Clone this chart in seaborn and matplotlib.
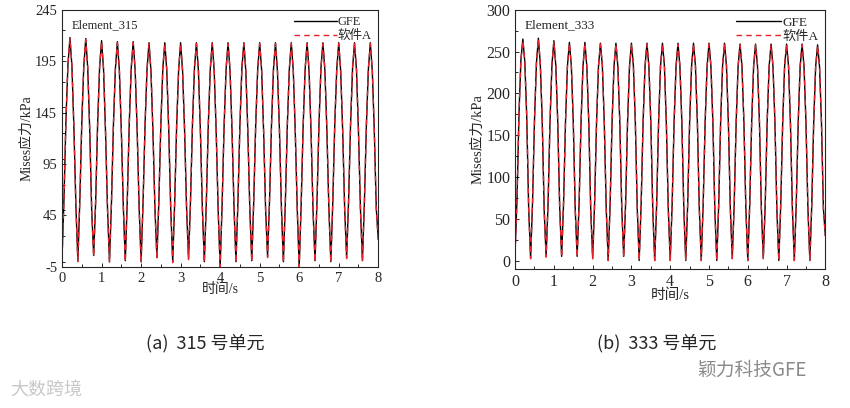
import matplotlib
matplotlib.use("Agg")
import matplotlib.pyplot as plt
from matplotlib.ticker import MultipleLocator
import numpy as np
import pandas as pd
import seaborn as sns

# temps (pas de 0.05 s)
temps = np.round(np.arange(0, 8.0001, 0.05), 2)

# Element_315
gfe_315 = [
    5, 62, 140, 192, 218, 190, 130, 55,
    1, 60, 136, 190, 217, 188, 128, 50,
    6, 58, 134, 189, 215, 187, 126, 52,
    0, 57, 133, 188, 214, 186, 127, 54,
    1, 59, 134, 188, 214, 186, 128, 53,
    0, 58, 133, 187, 213, 185, 126, 52,
    4, 60, 134, 188, 213, 186, 127, 51,
    0, 58, 133, 187, 213, 185, 128, 53,
    3, 59, 134, 188, 213, 186, 127, 52,
    0, 57, 133, 187, 213, 185, 126, 50,
    -5, 56, 132, 187, 213, 186, 128, 54,
    0, 58, 133, 188, 213, 185, 127, 52,
    1, 59, 134, 187, 213, 186, 126, 51,
    5, 60, 134, 188, 213, 185, 128, 53,
    0, 58, 133, 187, 213, 186, 127, 52,
    -5, 56, 132, 187, 213, 185, 126, 50,
    1, 58, 133, 188, 213, 186, 128, 53,
    0, 58, 134, 187, 213, 185, 127, 52,
    4, 60, 134, 188, 213, 186, 126, 51,
    1, 58, 133, 187, 213, 185, 127, 52,
    22]
softA_315 = [
    4, 63, 141, 193, 217, 191, 131, 54,
    0, 61, 137, 191, 216, 189, 129, 49,
    5, 59, 135, 190, 214, 188, 127, 51,
    -1, 58, 134, 189, 213, 187, 128, 53,
    0, 60, 135, 189, 213, 187, 129, 52,
    -1, 59, 134, 188, 212, 186, 127, 51,
    3, 61, 135, 189, 212, 187, 128, 50,
    -1, 59, 134, 188, 212, 186, 129, 52,
    2, 60, 135, 189, 212, 187, 128, 51,
    -1, 58, 134, 188, 212, 186, 127, 49,
    -5, 57, 133, 188, 212, 187, 129, 53,
    -1, 59, 134, 189, 212, 186, 128, 51,
    0, 60, 135, 188, 212, 187, 127, 50,
    4, 61, 135, 189, 212, 186, 129, 52,
    -1, 59, 134, 188, 212, 187, 128, 51,
    -5, 57, 133, 188, 212, 186, 127, 49,
    0, 59, 134, 189, 212, 187, 129, 52,
    -1, 59, 135, 188, 212, 186, 128, 51,
    3, 61, 135, 189, 212, 187, 127, 50,
    0, 59, 134, 188, 212, 186, 128, 51,
    21]

# Element_333
gfe_333 = [
    10, 75, 175, 240, 265, 238, 172, 62,
    3, 70, 168, 236, 266, 235, 166, 60,
    5, 68, 166, 234, 263, 233, 165, 63,
    5, 69, 166, 233, 261, 233, 166, 62,
    5, 68, 165, 232, 261, 232, 165, 61,
    3, 68, 165, 232, 260, 233, 164, 62,
    0, 67, 165, 232, 260, 232, 165, 63,
    5, 69, 166, 232, 260, 233, 166, 62,
    0, 67, 165, 232, 260, 232, 165, 61,
    0, 67, 165, 233, 260, 233, 164, 62,
    0, 68, 166, 232, 260, 232, 165, 63,
    0, 67, 165, 232, 260, 233, 166, 62,
    0, 68, 165, 232, 260, 232, 165, 61,
    0, 67, 166, 233, 260, 233, 164, 62,
    3, 68, 165, 232, 259, 232, 165, 63,
    0, 67, 165, 232, 259, 233, 166, 62,
    3, 68, 166, 232, 259, 232, 165, 61,
    0, 67, 165, 233, 259, 233, 164, 62,
    0, 68, 165, 232, 259, 232, 165, 63,
    0, 67, 166, 232, 258, 232, 165, 62,
    30]
softA_333 = [
    9, 76, 176, 241, 263, 239, 173, 61,
    2, 71, 169, 237, 265, 236, 167, 59,
    4, 69, 167, 235, 262, 234, 166, 62,
    4, 70, 167, 234, 260, 234, 167, 61,
    4, 69, 166, 233, 260, 233, 166, 60,
    2, 69, 166, 233, 259, 234, 165, 61,
    0, 68, 166, 233, 259, 233, 166, 62,
    4, 70, 167, 233, 259, 234, 167, 61,
    0, 68, 166, 233, 259, 233, 166, 60,
    0, 68, 166, 234, 259, 234, 165, 61,
    0, 69, 167, 233, 259, 233, 166, 62,
    0, 68, 166, 233, 259, 234, 167, 61,
    0, 69, 166, 233, 259, 233, 166, 60,
    0, 68, 167, 234, 259, 234, 165, 61,
    2, 69, 166, 233, 258, 233, 166, 62,
    0, 68, 166, 233, 258, 234, 167, 61,
    2, 69, 167, 233, 258, 233, 166, 60,
    0, 68, 166, 234, 258, 234, 165, 61,
    0, 69, 166, 233, 258, 233, 166, 62,
    0, 68, 167, 233, 257, 233, 166, 61,
    29]

sns.set_style("ticks")
plt.rcParams['font.family'] = ['Liberation Serif', 'Noto Sans CJK SC', 'DejaVu Sans']
plt.rcParams['axes.unicode_minus'] = False
plt.rcParams['xtick.direction'] = 'in'
plt.rcParams['ytick.direction'] = 'in'

figure = plt.figure(figsize=(8.5, 4.08), dpi=100)
ax = figure.add_axes([0.073, 0.346, 0.372, 0.630])  # 315 (gauche)
bx = figure.add_axes([0.606, 0.341, 0.365, 0.635])  # 333 (droite)


def trace(axe, gfe, softA, titre, taille):
    df = pd.DataFrame({"t": temps, "GFE": gfe, "软件A": softA})
    sns.lineplot(data=df, x="t", y="GFE", ax=axe, color="black", lw=1.0, label="GFE")
    sns.lineplot(data=df, x="t", y="软件A", ax=axe, color="#e8202a", lw=1.0,
                 dashes=(4, 3), label="软件A")
    axe.text(0.03, 0.93, titre, transform=axe.transAxes, fontsize=taille)
    axe.legend(loc="upper right", frameon=False, fontsize=taille,
               handlelength=3.4, borderaxespad=0.1, labelspacing=0.15,
               handletextpad=0.1)
    axe.set_xlim(0, 8)
    axe.xaxis.set_major_locator(MultipleLocator(1))
    axe.xaxis.set_minor_locator(MultipleLocator(0.5))
    axe.tick_params(which='both', top=False, right=False, length=3, width=0.7)
    axe.tick_params(which='minor', length=2)
    axe.set_xlabel("时间/s", fontsize=taille + 1, labelpad=-1)
    for s in axe.spines.values():
        s.set_linewidth(0.8)


trace(ax, gfe_315, softA_315, "Element_315", 9)
ax.set_ylim(-5, 245)
ax.set_yticks(np.arange(-5, 246, 50))
ax.yaxis.set_minor_locator(MultipleLocator(25))
ax.tick_params(labelsize=10.5)
ax.set_ylabel("Mises应力/kPa", fontsize=10, labelpad=1)

trace(bx, gfe_333, softA_333, "Element_333", 9.5)
bx.set_ylim(-10, 300)
bx.set_yticks(np.arange(0, 301, 50))
bx.yaxis.set_minor_locator(MultipleLocator(25))
bx.tick_params(labelsize=11.5)
bx.set_ylabel("Mises应力/kPa", fontsize=10.5, labelpad=1)

# légendes des figures
figure.text(0.241, 0.158, "(a)  315 号单元", fontsize=13, family=['Noto Sans CJK SC'],
            ha="center", va="center")
figure.text(0.772, 0.158, "(b)  333 号单元", fontsize=13, family=['Noto Sans CJK SC'],
            ha="center", va="center")
# filigranes
figure.text(0.012, 0.045, "大数跨境", fontsize=13, color="#c8c8c8",
            family=['Noto Sans CJK SC'], va="center")
figure.text(0.82, 0.092, "颖力科技GFE", fontsize=13.5, color="#8a8a8a",
            family=['Noto Sans CJK SC'], va="center")

figure.savefig("out.png", dpi=100)
